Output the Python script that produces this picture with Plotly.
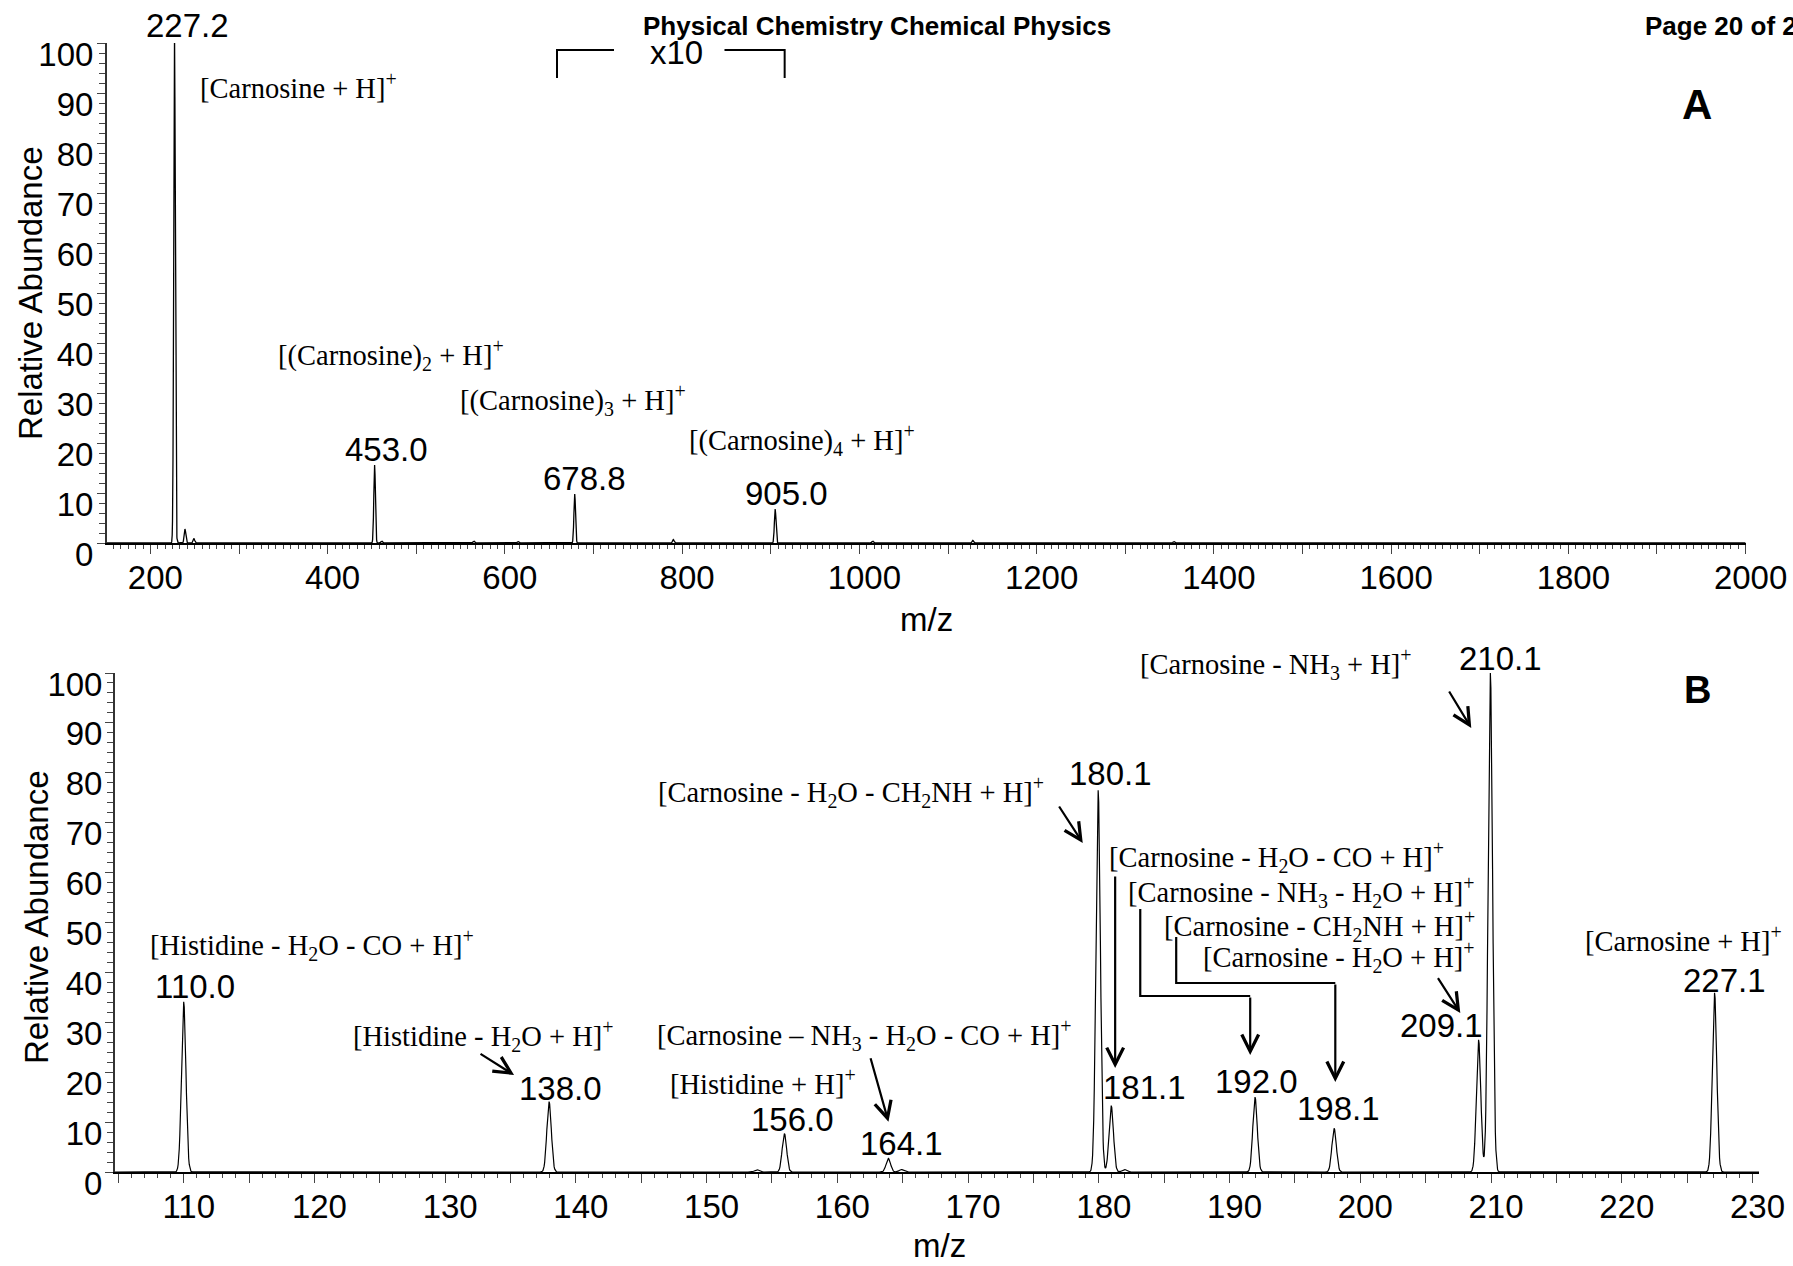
import numpy as np
import plotly.graph_objects as go

W, H = 1793, 1266

# ---------------- data ----------------
# Panel A: full-scan ESI mass spectrum
a_mz = [227.2, 228.2, 239.0, 249.0, 453.0, 461.0, 565.0, 615.0, 678.8, 790.0, 905.0, 1015.0, 1128.0, 1355.0]
a_int = [100.0, 1.0, 2.8, 0.9, 15.6, 0.4, 0.4, 0.3, 9.8, 0.7, 6.8, 0.4, 0.5, 0.3]
a_label_text = ["227.2", "453.0", "678.8", "905.0"]
a_label_idx = [0, 4, 8, 10]

# Panel B: MS/MS spectrum of [Carnosine + H]+
b_mz = [110.0, 137.95, 153.85, 155.95, 163.9, 164.9, 179.95, 180.95, 181.95, 191.95, 198.0, 209.05, 209.95, 227.1]
b_int = [34.1, 14.1, 0.45, 7.7, 2.7, 0.5, 76.5, 13.3, 0.5, 15.0, 8.75, 26.5, 100.0, 35.9]
b_label_text = ["110.0", "138.0", "156.0", "164.1", "180.1", "181.1", "192.0", "198.1", "209.1", "210.1", "227.1"]
b_label_idx = [0, 1, 3, 4, 6, 7, 9, 10, 11, 12, 13]

# tick labels
a_xticks = list(range(200, 2001, 100))
a_xticktext = [str(v) if v % 200 == 0 else "" for v in a_xticks]
b_xticks = list(range(105, 231, 5))
b_xticktext = [str(v) if v % 10 == 0 else "" for v in b_xticks]
y_ticks = list(range(0, 101, 10))
y_ticktext = [str(v) for v in y_ticks]

# ---------------- styles / layout helpers ----------------
SANS = "Liberation Sans, Arial, sans-serif"
SERIF = "Liberation Serif, Times New Roman, serif"
NUM_FONT = dict(family=SANS, size=33, color="black")
SER_FONT = dict(family=SERIF, size=28.5, color="black")
HEAD_FONT = dict(family=SANS, size=26, color="black")


def px(x):
    return x / W


def py(y):
    return 1 - y / H


def profile(mz, inten, sigma, lo, hi, step):
    xs = [lo, hi]
    offs = np.arange(-4.0, 4.0001, step)
    for m in mz:
        xs.extend(m + offs * sigma)
    xs = np.unique(np.clip(np.array(xs), lo, hi))
    ys = np.zeros_like(xs)
    for m, h in zip(mz, inten):
        ys += h * np.exp(-0.5 * ((xs - m) / sigma) ** 2)
    return xs, ys


A_RANGE = [150.7, 2000.0]
B_RANGE = [104.73, 230.5]

ax_, ay_ = profile(a_mz, a_int, 0.9, A_RANGE[0], A_RANGE[1], 0.5)
bx_, by_ = profile(b_mz, b_int, 0.17, B_RANGE[0], B_RANGE[1], 0.25)

fig = go.Figure()
fig.add_trace(go.Scatter(x=ax_, y=ay_, mode="lines", line=dict(color="black", width=1.3),
                         xaxis="x", yaxis="y", hoverinfo="skip", showlegend=False))
fig.add_trace(go.Scatter(x=bx_, y=by_, mode="lines", line=dict(color="black", width=1.2),
                         xaxis="x2", yaxis="y2", hoverinfo="skip", showlegend=False))


def xaxis(domain, rng, tickvals, ticktext, minor_dtick, minor_tick0, anchor):
    return dict(domain=domain, range=rng, anchor=anchor, showgrid=False, zeroline=False,
                automargin=False,
                showline=True, linecolor="black", linewidth=2, ticks="outside", ticklen=9,
                tickwidth=1.3, tickcolor="#444", tickmode="array", tickvals=tickvals,
                ticktext=ticktext, tickfont=NUM_FONT, ticklabelshift=5, ticklabelstandoff=-5,
                minor=dict(tickmode="linear", tick0=minor_tick0, dtick=minor_dtick, ticks="outside",
                           ticklen=4, tickwidth=1, tickcolor="#444", showgrid=False),
                fixedrange=True)


def yaxis(domain, anchor, standoff):
    return dict(domain=domain, range=[0, 100], anchor=anchor, showgrid=False, zeroline=False,
                automargin=False,
                showline=True, linecolor="#333", linewidth=1.5, ticks="outside", ticklen=8,
                tickwidth=1.3, tickcolor="#444", tickmode="array", tickvals=y_ticks,
                ticktext=y_ticktext, tickfont=NUM_FONT, ticklabelshift=11,
                ticklabelstandoff=standoff,
                minor=dict(tickmode="linear", tick0=0, dtick=2, ticks="outside", ticklen=6,
                           tickwidth=1, tickcolor="#444", showgrid=False),
                fixedrange=True)


fig.update_layout(
    template="none",
    width=W, height=H, margin=dict(l=0, r=0, t=0, b=0, pad=0), autosize=False,
    paper_bgcolor="white", plot_bgcolor="white", showlegend=False,
    xaxis=xaxis([106.7 / W, 1745.6 / W], A_RANGE, a_xticks, a_xticktext, 100 / 12, 200, "y"),
    yaxis=yaxis([py(543), py(43)], "x", -3),
    xaxis2=xaxis([114.8 / W, 1759.0 / W], B_RANGE, b_xticks, b_xticktext, 1, 110, "y2"),
    yaxis2=yaxis([py(1172), py(673)], "x2", -4),
)

ann = []
# peak labels: (xshift, yshift) in px relative to the peak apex
a_label_shift = [(12.5, 18), (11.5, 16), (10, 15.5), (11, 15.5)]
for t, i, (dx, dy) in zip(a_label_text, a_label_idx, a_label_shift):
    ann.append(dict(x=a_mz[i], y=a_int[i], xref="x", yref="y", text=t, showarrow=False,
                    xanchor="center", yanchor="middle", xshift=dx, yshift=dy, font=NUM_FONT))
b_label_shift = [(11, 15), (11, 13), (8, 14), (13.5, 15), (12, 17), (33, 18.6), (1, 16), (4, 20),
                 (-36.7, 14), (10, 15), (10, 12)]
for t, i, (dx, dy) in zip(b_label_text, b_label_idx, b_label_shift):
    ann.append(dict(x=b_mz[i], y=b_int[i], xref="x2", yref="y2", text=t, showarrow=False,
                    xanchor="center", yanchor="middle", xshift=dx, yshift=dy, font=NUM_FONT))

# ion assignment labels: (left px, centre px, text)
ion_labels = [
    (198, 86, "[Carnosine + H]<sup>+</sup>"),
    (275.5, 355, "[(Carnosine)<sub>2</sub> + H]<sup>+</sup>"),
    (457.5, 400, "[(Carnosine)<sub>3</sub> + H]<sup>+</sup>"),
    (687, 440, "[(Carnosine)<sub>4</sub> + H]<sup>+</sup>"),
    (148, 945, "[Histidine - H<sub>2</sub>O - CO + H]<sup>+</sup>"),
    (656, 792, "[Carnosine - H<sub>2</sub>O - CH<sub>2</sub>NH + H]<sup>+</sup>"),
    (1138, 664, "[Carnosine - NH<sub>3</sub> + H]<sup>+</sup>"),
    (1106.7, 857, "[Carnosine - H<sub>2</sub>O - CO + H]<sup>+</sup>"),
    (1126, 892, "[Carnosine - NH<sub>3</sub> - H<sub>2</sub>O + H]<sup>+</sup>"),
    (1161.7, 926, "[Carnosine - CH<sub>2</sub>NH + H]<sup>+</sup>"),
    (1200.7, 957, "[Carnosine - H<sub>2</sub>O + H]<sup>+</sup>"),
    (351, 1036, "[Histidine - H<sub>2</sub>O + H]<sup>+</sup>"),
    (655, 1035, "[Carnosine \u2013 NH<sub>3</sub> - H<sub>2</sub>O - CO + H]<sup>+</sup>"),
    (668, 1082, "[Histidine + H]<sup>+</sup>"),
    (1583, 939, "[Carnosine + H]<sup>+</sup>"),
]
for x0, yc, t in ion_labels:
    ann.append(dict(x=px(x0), y=py(yc), xref="paper", yref="paper", text=t, showarrow=False,
                    xanchor="left", yanchor="middle", font=SER_FONT))

# other texts
ann += [
    dict(x=px(877), y=py(26), xref="paper", yref="paper", text="<b>Physical Chemistry Chemical Physics</b>",
         showarrow=False, xanchor="center", yanchor="middle", font=HEAD_FONT),
    dict(x=px(1643), y=py(26), xref="paper", yref="paper", text="<b>Page 20 of 2</b>",
         showarrow=False, xanchor="left", yanchor="middle", font=HEAD_FONT),
    dict(x=px(1697), y=py(104), xref="paper", yref="paper", text="<b>A</b>", showarrow=False,
         xanchor="center", yanchor="middle", font=dict(family=SANS, size=42, color="black")),
    dict(x=px(1697), y=py(690), xref="paper", yref="paper", text="<b>B</b>", showarrow=False,
         xanchor="center", yanchor="middle", font=dict(family=SANS, size=38, color="black")),
    dict(x=px(676), y=py(53), xref="paper", yref="paper", text="x10", showarrow=False,
         xanchor="center", yanchor="middle", font=NUM_FONT),
    dict(x=px(30), y=py(293), xref="paper", yref="paper", text="Relative Abundance", textangle=-90,
         showarrow=False, xanchor="center", yanchor="middle", font=NUM_FONT),
    dict(x=px(36), y=py(917), xref="paper", yref="paper", text="Relative Abundance", textangle=-90,
         showarrow=False, xanchor="center", yanchor="middle", font=NUM_FONT),
    dict(x=px(926), y=py(619), xref="paper", yref="paper", text="m/z", showarrow=False,
         xanchor="center", yanchor="middle", font=NUM_FONT),
    dict(x=px(939), y=py(1245), xref="paper", yref="paper", text="m/z", showarrow=False,
         xanchor="center", yanchor="middle", font=NUM_FONT),
]

# arrows pointing at peaks in panel B: (tail mz, tail y, tip mz, tip y)
b_arrows = [
    (176.89, 73.55, 178.77, 65.93),   # -> 180.1
    (206.73, 96.59, 208.49, 88.98),   # -> 210.1
    (181.25, 59.52, 181.25, 20.84),   # -> 181.1
    (191.58, 35.27, 191.58, 23.45),   # -> 192.0
    (198.09, 37.88, 198.09, 18.04),   # -> 198.1
    (205.87, 39.14, 207.65, 31.86),   # -> 209.1
    (132.59, 23.85, 135.27, 19.44),   # -> 138.0
    (162.51, 23.11, 163.91, 10.08),   # -> 164.1
]
for x0, y0, x1, y1 in b_arrows:
    ann.append(dict(x=x1, y=y1, ax=x0, ay=y0, xref="x2", yref="y2", axref="x2", ayref="y2",
                    text="", showarrow=True, arrowhead=5, arrowsize=1.5, arrowwidth=2.2,
                    arrowcolor="black", standoff=0, startstandoff=0))
fig.update_layout(annotations=ann)

# connector polylines (panel B) and the x10 bracket (panel A)
shapes = []
b_connectors = [
    [(183.17, 52.71), (183.17, 35.27), (191.58, 35.27)],
    [(185.92, 47.09), (185.92, 37.88), (198.09, 37.88)],
]
for pts in b_connectors:
    path = "M " + " L ".join(f"{x},{y}" for x, y in pts)
    shapes.append(dict(type="path", path=path, xref="x2", yref="y2",
                       line=dict(color="black", width=2.2)))
bracket = [
    [(658.8, 93.0), (658.8, 98.6), (723.1, 98.6)],
    [(847.8, 98.6), (915.7, 98.6), (915.7, 93.0)],
]
for pts in bracket:
    path = "M " + " L ".join(f"{x},{y}" for x, y in pts)
    shapes.append(dict(type="path", path=path, xref="x", yref="y",
                       line=dict(color="black", width=2)))
fig.update_layout(shapes=shapes)

fig.write_html("out.html", config={"displayModeBar": False},
               post_script="document.body.style.margin='0px';")
